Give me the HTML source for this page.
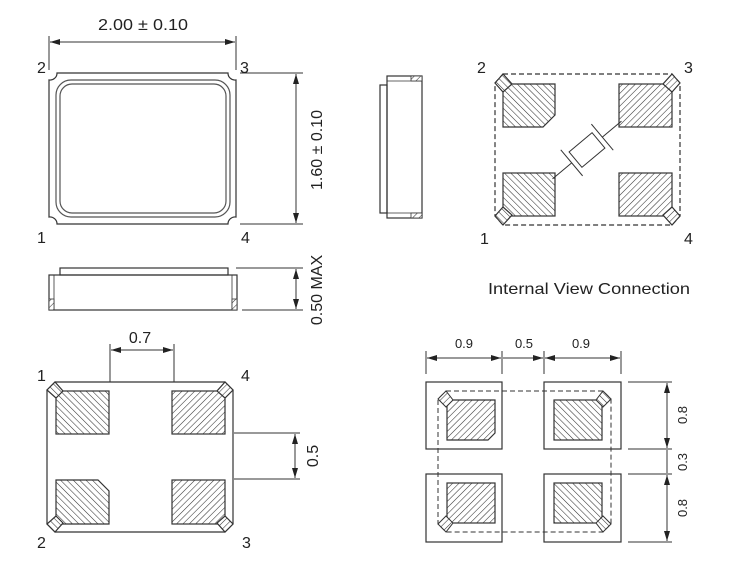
<!DOCTYPE html>
<html><head><meta charset="utf-8"><style>
html,body{margin:0;padding:0;background:#fff;}
svg{display:block;}
text{font-family:"Liberation Sans",sans-serif;fill:#222;}
</style></head><body>
<svg width="736" height="570" viewBox="0 0 736 570" xmlns="http://www.w3.org/2000/svg">
<defs>
<pattern id="bs" width="4.5" height="4.5" patternUnits="userSpaceOnUse" patternTransform="rotate(-45)">
<rect width="4.5" height="4.5" fill="#fff"/><line x1="0" y1="0" x2="0" y2="4.5" stroke="#333" stroke-width="1.1"/></pattern>
<pattern id="fs" width="4.5" height="4.5" patternUnits="userSpaceOnUse" patternTransform="rotate(45)">
<rect width="4.5" height="4.5" fill="#fff"/><line x1="0" y1="0" x2="0" y2="4.5" stroke="#333" stroke-width="1.1"/></pattern>
<marker id="a" viewBox="0 0 10 6" refX="10" refY="3" markerWidth="10" markerHeight="6" orient="auto-start-reverse" markerUnits="userSpaceOnUse">
<path d="M0,0 L10,3 L0,6 Z" fill="#222"/></marker>
</defs>
<g stroke="#333" stroke-width="1.2" fill="none">

<!-- TOP VIEW -->
<path d="M57,73 L228,73 A7,7 0 0 0 236,80 L236,217 A7,7 0 0 0 228,224 L57,224 A7,7 0 0 0 49,217 L49,80 A7,7 0 0 0 57,73 Z"/>
<rect x="56" y="80" width="174" height="137" rx="15" stroke="#555"/>
<rect x="60" y="84" width="166" height="129" rx="12" stroke="#555"/>
<line x1="49" y1="36" x2="49" y2="70" stroke-width="1"/>
<line x1="236" y1="36" x2="236" y2="70" stroke-width="1"/>
<line x1="50" y1="42" x2="235" y2="42" stroke-width="1" marker-start="url(#a)" marker-end="url(#a)"/>
<line x1="240" y1="73" x2="303" y2="73" stroke-width="1"/>
<line x1="240" y1="224" x2="303" y2="224" stroke-width="1"/>
<line x1="296" y1="74" x2="296" y2="223" stroke-width="1" marker-start="url(#a)" marker-end="url(#a)"/>

<!-- SIDE VIEW -->
<rect x="60" y="268" width="168" height="7"/>
<rect x="49" y="275" width="188" height="35"/>
<line x1="54" y1="275" x2="54" y2="310" stroke-width="0.8"/>
<line x1="232" y1="275" x2="232" y2="310" stroke-width="0.8"/>
<rect x="49" y="299" width="5" height="11" fill="url(#fs)" stroke-width="0.8"/>
<rect x="232" y="299" width="5" height="11" fill="url(#fs)" stroke-width="0.8"/>
<line x1="236" y1="268" x2="303" y2="268" stroke-width="1"/>
<line x1="242" y1="310" x2="303" y2="310" stroke-width="1"/>
<line x1="296" y1="269" x2="296" y2="309" stroke-width="1" marker-start="url(#a)" marker-end="url(#a)"/>

<!-- SIDE VIEW RIGHT -->
<rect x="380" y="85" width="7" height="128"/>
<rect x="387" y="76" width="35" height="142"/>
<line x1="387" y1="81" x2="422" y2="81" stroke-width="0.8"/>
<line x1="387" y1="213" x2="422" y2="213" stroke-width="0.8"/>
<rect x="411" y="76" width="11" height="5" fill="url(#fs)" stroke-width="0.8"/>
<rect x="411" y="213" width="11" height="5" fill="url(#fs)" stroke-width="0.8"/>

<!-- INTERNAL VIEW -->
<path d="M503,74 L672,74 L680,83 L680,216 L672,225 L503,225 L495,216 L495,83 Z" stroke-dasharray="5,3"/>
<path d="M503,84 L555,84 L555,115 L543,127 L503,127 Z" fill="url(#bs)"/>
<rect x="619" y="84" width="53" height="43" fill="url(#fs)"/>
<rect x="503" y="173" width="52" height="43" fill="url(#bs)"/>
<rect x="619" y="173" width="53" height="43" fill="url(#fs)"/>
<polygon points="495,83 503,74 512,84 503,92" fill="url(#bs)"/>
<polygon points="680,83 672,74 663,84 672,92" fill="url(#fs)"/>
<polygon points="495,216 503,225 512,215 503,207" fill="url(#bs)"/>
<polygon points="680,216 672,225 663,215 672,207" fill="url(#fs)"/>
<g transform="translate(587,150) rotate(-40)">
<line x1="-45" y1="0" x2="-20" y2="0" stroke-width="1"/>
<line x1="20" y1="0" x2="45" y2="0" stroke-width="1"/>
<line x1="-20" y1="-17" x2="-20" y2="17" stroke-width="1"/>
<line x1="20" y1="-17" x2="20" y2="17" stroke-width="1"/>
<rect x="-15" y="-10" width="30" height="20" stroke-width="1"/>
</g>

<!-- BOTTOM VIEW -->
<polygon points="55,382 225,382 233,390 233,524 225,532 55,532 47,524 47,390"/>
<rect x="56" y="391" width="53" height="43" fill="url(#bs)"/>
<rect x="172" y="391" width="53" height="43" fill="url(#fs)"/>
<path d="M56,480 L98,480 L109,491 L109,524 L56,524 Z" fill="url(#bs)"/>
<rect x="172" y="480" width="53" height="44" fill="url(#fs)"/>
<polygon points="47,390 55,382 63,391 56,398" fill="url(#bs)"/>
<polygon points="233,390 225,382 217,391 225,398" fill="url(#fs)"/>
<polygon points="47,524 55,532 63,523 56,516" fill="url(#bs)"/>
<polygon points="233,524 225,532 217,523 225,516" fill="url(#fs)"/>
<line x1="110" y1="344" x2="110" y2="382" stroke-width="1"/>
<line x1="174" y1="344" x2="174" y2="382" stroke-width="1"/>
<line x1="111" y1="350" x2="173" y2="350" stroke-width="1" marker-start="url(#a)" marker-end="url(#a)"/>
<line x1="234" y1="433" x2="300" y2="433" stroke-width="1"/>
<line x1="234" y1="479" x2="300" y2="479" stroke-width="1"/>
<line x1="295" y1="434" x2="295" y2="478" stroke-width="1" marker-start="url(#a)" marker-end="url(#a)"/>

<!-- LAND PATTERN -->
<rect x="426" y="382" width="76" height="67"/>
<rect x="544" y="382" width="77" height="67"/>
<rect x="426" y="474" width="76" height="68"/>
<rect x="544" y="474" width="77" height="68"/>
<path d="M447,400 L495,400 L495,433 L488,440 L447,440 Z" fill="url(#fs)"/>
<rect x="554" y="400" width="48" height="40" fill="url(#bs)"/>
<rect x="447" y="483" width="48" height="40" fill="url(#fs)"/>
<rect x="554" y="483" width="48" height="40" fill="url(#bs)"/>
<path d="M446,391 L603,391 L611,399 L611,524 L603,532 L446,532 L438,524 L438,399 Z" stroke-dasharray="5,3" stroke-width="1"/>
<polygon points="438,399 446,391 453,400 446,407" fill="url(#fs)" stroke-width="1"/>
<polygon points="611,399 603,391 596,400 603,407" fill="url(#bs)" stroke-width="1"/>
<polygon points="438,524 446,532 453,523 446,516" fill="url(#fs)" stroke-width="1"/>
<polygon points="611,524 603,532 596,523 603,516" fill="url(#bs)" stroke-width="1"/>
<line x1="426" y1="351" x2="426" y2="374" stroke-width="1"/>
<line x1="502" y1="351" x2="502" y2="374" stroke-width="1"/>
<line x1="544" y1="351" x2="544" y2="374" stroke-width="1"/>
<line x1="621" y1="351" x2="621" y2="374" stroke-width="1"/>
<line x1="427" y1="358" x2="501" y2="358" stroke-width="1" marker-start="url(#a)" marker-end="url(#a)"/>
<line x1="503" y1="358" x2="543" y2="358" stroke-width="1" marker-end="url(#a)"/>
<line x1="545" y1="358" x2="620" y2="358" stroke-width="1" marker-start="url(#a)" marker-end="url(#a)"/>
<line x1="628" y1="382" x2="672" y2="382" stroke-width="1"/>
<line x1="628" y1="449" x2="672" y2="449" stroke-width="1"/>
<line x1="628" y1="474" x2="672" y2="474" stroke-width="1"/>
<line x1="628" y1="542" x2="672" y2="542" stroke-width="1"/>
<line x1="667" y1="383" x2="667" y2="448" stroke-width="1" marker-start="url(#a)" marker-end="url(#a)"/>
<line x1="667" y1="450" x2="667" y2="473" stroke-width="1"/>
<line x1="667" y1="475" x2="667" y2="541" stroke-width="1" marker-start="url(#a)" marker-end="url(#a)"/>
</g>

<g font-size="16">
<text x="98" y="30" textLength="90" lengthAdjust="spacingAndGlyphs">2.00 ± 0.10</text>
<text x="37" y="73">2</text><text x="240" y="73">3</text>
<text x="37" y="243">1</text><text x="241" y="243">4</text>
<text transform="translate(322,150) rotate(-90)" text-anchor="middle">1.60 ± 0.10</text>
<text transform="translate(322,290) rotate(-90)" text-anchor="middle">0.50 MAX</text>
<text x="477" y="73">2</text><text x="684" y="73">3</text>
<text x="480" y="244">1</text><text x="684" y="244">4</text>
<text x="488" y="294" textLength="202" lengthAdjust="spacingAndGlyphs">Internal View Connection</text>
<text x="140" y="343" text-anchor="middle">0.7</text>
<text x="37" y="381">1</text><text x="241" y="381">4</text>
<text x="37" y="548">2</text><text x="242" y="548">3</text>
<text transform="translate(318,456) rotate(-90)" text-anchor="middle">0.5</text>
</g>
<g font-size="13" fill="#333">
<text x="464" y="348" text-anchor="middle">0.9</text>
<text x="524" y="348" text-anchor="middle">0.5</text>
<text x="581" y="348" text-anchor="middle">0.9</text>
<text transform="translate(687,415) rotate(-90)" text-anchor="middle">0.8</text>
<text transform="translate(687,462) rotate(-90)" text-anchor="middle">0.3</text>
<text transform="translate(687,508) rotate(-90)" text-anchor="middle">0.8</text>
</g>
</svg>
</body></html>
